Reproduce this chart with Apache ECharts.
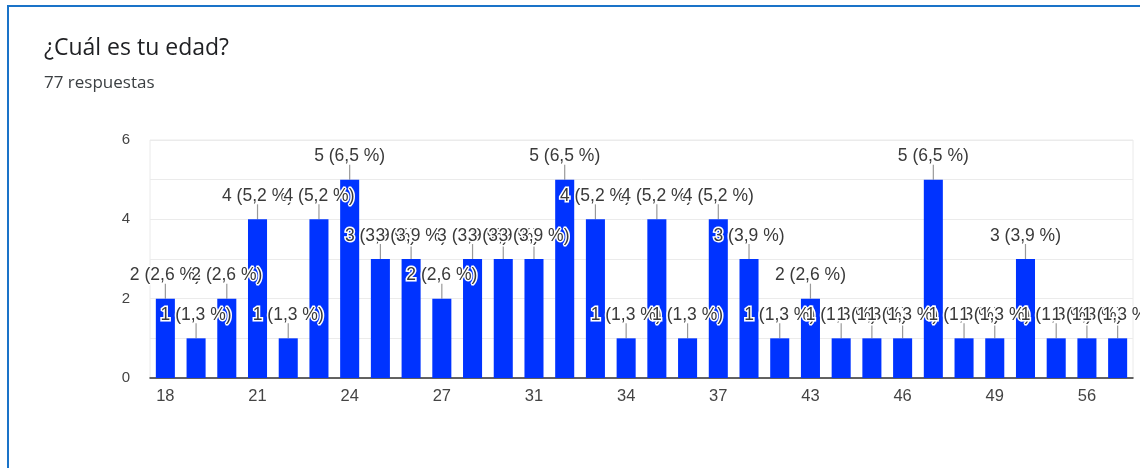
<!DOCTYPE html>
<html>
<head>
<meta charset="utf-8">
<script src="https://cdn.jsdelivr.net/npm/echarts@6/dist/echarts.min.js"></script>
<style>
  html, body { margin: 0; padding: 0; background: #fff; }
  #frame {
    position: absolute; left: 7px; top: 5px; width: 1140px; height: 470px;
    border-top: 2px solid #1a73c8; border-left: 2px solid #1a73c8;
  }
  #chart { position: absolute; left: 0; top: 0; width: 1140px; height: 468px; }
</style>
</head>
<body>
<div id="frame"></div>
<div id="chart"></div>
<script>
// edades (solo se ven algunas etiquetas en el eje)
const ages = ["18", "19", "20", "21", "22", "23", "24", "25", "26", "27", "28", "29",
  "31", "32", "33", "34", "35", "36", "37", "38", "40", "43", "44", "45", "46",
  "47", "48", "49", "50", "52", "56", "58"]
const counts = [2, 1, 2, 4, 1, 4, 5, 3, 3, 2, 3, 3,
  3, 5, 4, 1, 4, 1, 4, 3, 1, 2, 1, 1, 1,
  5, 1, 1, 3, 1, 1, 1]
const totalResponses = 77
const yTicks = [0, 2, 4, 6]

const barColor = "#0033ff"
const font = "Arial, 'Liberation Sans', sans-serif"

const chart = echarts.init(document.getElementById("chart"))

function pctLabel(v) {
  const p = (v / totalResponses * 100).toFixed(1).replace(".", ",")
  return v + " (" + p + " %)"
}

chart.setOption({
  animation: false,
  title: {
    text: "¿Cuál es tu edad?",
    subtext: totalResponses + " respuestas",
    left: 39,
    top: 32,
    itemGap: 15,
    textStyle: { fontFamily: "'Open Sans', sans-serif", fontSize: 23, fontWeight: "normal", color: "#202124" },
    subtextStyle: { fontFamily: "'Open Sans', sans-serif", fontSize: 17, color: "#3c4043" }
  },
  grid: { left: 150, right: 7, top: 140, bottom: 90, show: true, borderColor: "#eaeaea", borderWidth: 1 },
  xAxis: {
    type: "category",
    data: ages,
    axisTick: { show: false },
    axisLine: { lineStyle: { color: "#333", width: 1.5 } },
    axisLabel: {
      interval: 2,
      color: "#444",
      fontSize: 16.5,
      fontFamily: font,
      margin: 10
    }
  },
  yAxis: {
    type: "value",
    min: 0,
    max: 6,
    interval: 1,
    axisLine: { show: false },
    axisLabel: {
      color: "#444",
      fontSize: 15,
      fontFamily: font,
      margin: 20,
      formatter: v => yTicks.includes(v) ? String(v) : ""
    },
    splitLine: { lineStyle: { color: "#ebebeb" } }
  },
  series: [
    {
      type: "bar",
      data: counts,
      barWidth: "62%",
      itemStyle: { color: barColor },
      label: {
        show: true,
        position: "top",
        distance: 14,
        formatter: p => pctLabel(p.value),
        fontSize: 17.5,
        fontFamily: font,
        color: "#3a3a3a",
        textBorderColor: "#fff",
        textBorderWidth: 3
      },
      z: 2
    },
    {
      // líneas guía entre barra y etiqueta
      type: "custom",
      data: counts.map((v, i) => [i, v]),
      renderItem: (params, api) => {
        const p = api.coord([api.value(0), api.value(1)])
        return {
          type: "line",
          shape: { x1: p[0], y1: p[1], x2: p[0], y2: p[1] - 15 },
          style: { stroke: "#999", lineWidth: 1.2 }
        }
      },
      silent: true,
      z: 1
    }
  ]
})
</script>
</body>
</html>
